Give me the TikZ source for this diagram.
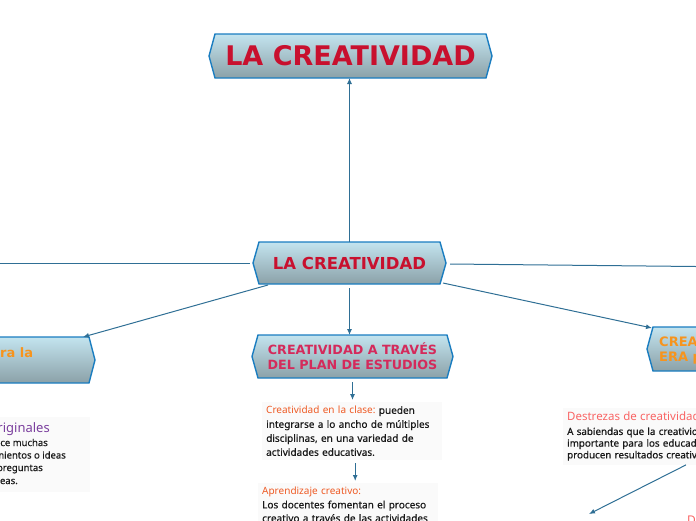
\documentclass[tikz,border=0pt]{standalone}
\usepackage{fontspec}
\setmainfont{Noto Sans}
\newfontfamily\boxfont{DejaVu Sans}
\newfontfamily\bodyfont{Noto Sans}[FakeBold=0.5]
\newfontfamily\bodyfontw{Noto Sans}[FakeBold=0.7]
\usetikzlibrary{arrows.meta,calc}
\pgfdeclarelayer{bg}
\pgfsetlayers{bg,main}
\definecolor{titlered}{HTML}{C8102E}
\definecolor{midpink}{HTML}{D42A5B}
\definecolor{boxorange}{HTML}{F7941D}
\definecolor{orred}{HTML}{EE5A24}
\definecolor{purp}{HTML}{7B3F9E}
\definecolor{salmon}{HTML}{F96464}
\definecolor{conncol}{HTML}{2F6F95}
\definecolor{hexborder}{HTML}{1A7DC0}
\definecolor{hextop}{HTML}{C3E4EF}
\definecolor{hexbot}{HTML}{8BA1A8}
\definecolor{bodytext}{HTML}{1A1A1A}
\newcommand\hexshape[1]{\path[hexfill] ([xshift=-6pt]#1.west) -- (#1.north west) -- (#1.north east) -- ([xshift=6pt]#1.east) -- (#1.south east) -- (#1.south west) -- cycle;}
\tikzset{
  boxarea/.style={rectangle, inner sep=0pt, outer sep=0pt},
  hexfill/.style={draw=hexborder, line width=1.4pt, top color=hextop, bottom color=hexbot, line join=miter},
  conn/.style={draw=conncol, line width=1pt},
  arr/.style={conn, -{Latex[length=6pt,width=5pt]}},
  bodybox/.style={rectangle, inner sep=4pt, fill=black!2, align=left, text=bodytext, font=\bodyfont\fontsize{10}{14}\selectfont},
  frag/.style={inner sep=0pt, anchor=base east, text=bodytext, font=\bodyfont\fontsize{9.5}{13}\selectfont},
}
\begin{document}
\frenchspacing
\begin{tikzpicture}[x=1pt,y=-1pt]
\useasboundingbox (0,0) rectangle (696,520);
\clip (0,0) rectangle (696,520);

% box nodes
\node[boxarea, minimum width=271pt, minimum height=44pt, text=titlered,
  font=\boxfont\bfseries\fontsize{27}{30}\selectfont] (top) at (350.5,56) {LA CREATIVIDAD};
\node[boxarea, minimum width=181pt, minimum height=42pt, text=titlered,
  font=\boxfont\bfseries\fontsize{16.5}{20}\selectfont] (c) at (349.5,263) {LA CREATIVIDAD};
\node[boxarea, minimum width=189pt, minimum height=43pt, text=midpink, align=center,
  font=\boxfont\bfseries\fontsize{12.7}{15}\selectfont] (m) at (352.5,356.5) {CREATIVIDAD A TRAVÉS\\DEL PLAN DE ESTUDIOS};
\node[boxarea, minimum width=209pt, minimum height=46pt] (L) at (-15.5,360) {};
\node[inner sep=0pt, anchor=base west, text=boxorange,
  font=\boxfont\bfseries\fontsize{13}{15}\selectfont] (Lt) at (0,357) {ra la};
\node[boxarea, minimum width=207pt, minimum height=44pt] (R) at (756.5,349) {};
\node[inner sep=0pt, anchor=north west, text=boxorange, align=left,
  font=\boxfont\bfseries\fontsize{13}{14.5}\selectfont] (Rt) at (659,337) {CREA\\ERA p};

\begin{pgfonlayer}{bg}
\hexshape{top}
\hexshape{c}
\hexshape{m}
\hexshape{L}
\hexshape{R}
\end{pgfonlayer}

% text blocks
\node[bodybox, anchor=north west, text width=172pt] (t1) at (262,402)
  {{\fontspec{Noto Sans}\color{orred}Creatividad en la clase:} pueden\\integrarse a lo ancho de múltiples\\disciplinas, en una variedad de\\actividades educativas.};
\node[bodybox, anchor=north west, text width=172pt, font=\bodyfont\fontsize{10}{13.5}\selectfont] (t2) at (258,483)
  {{\fontspec{Noto Sans}\color{orred}Aprendizaje creativo:}\\Los docentes fomentan el proceso\\creativo a través de las actividades};

\node[rectangle, inner sep=0pt, fill=black!2, minimum width=110pt, minimum height=75pt] (lb) at (35,454.5) {};
\node[inner sep=0pt, anchor=base east, text=purp, font=\fontsize{13}{15}\selectfont] (l0) at (50,432) {originales};
\node[frag] (l1) at (48,446) {ce muchas};
\node[frag] (l2) at (66,458.5) {mientos o ideas};
\node[frag] (l3) at (43,471) {preguntas};
\node[frag] (l4) at (18,484) {eas.};

\node[bodybox, anchor=north west, text width=200pt, font=\bodyfontw\fontsize{9.8}{11.7}\selectfont] (rt) at (563,408)
  {{\fontspec{Noto Sans}\color{salmon}\fontsize{11.5}{14}\selectfont Destrezas de creatividad}\\[2.3pt]A sabiendas que la creativid\\importante para los educad\\producen resultados creativ};
\node[inner sep=0pt, anchor=north west, text=salmon, font=\fontsize{12}{14}\selectfont] (d) at (687,516) {D};

% free ends
\coordinate (offL) at (0,263);
\coordinate (offR) at (696,266.5);
\coordinate (offBL) at (589,514);

% connectors
\draw[arr] (c.north) -- (c.north |- top.south);
\draw[conn] ([xshift=-9pt]c.west) -- (offL);
\draw[conn] ([xshift=10pt,yshift=-1pt]c.east) -- (offR);
\draw[arr] ([xshift=9pt,yshift=-1pt]c.south west) -- ([xshift=-6pt]L.north east);
\draw[arr] ([yshift=-4pt]c.south) -- (c.south |- m.north);
\draw[arr] ([xshift=3pt,yshift=1pt]c.south east) -- ([xshift=-1pt,yshift=-1pt]R.north west);
\draw[arr] ([yshift=-4pt]m.south) -- ([yshift=2pt]m.south |- t1.north);
\draw[arr] ([xshift=3pt,yshift=-3pt]t1.south) -- ([xshift=3pt,yshift=2pt]t1.south |- t2.north);
\draw[arr] (rt.south west -| 686,0) -- (offBL);
\end{tikzpicture}
\end{document}
